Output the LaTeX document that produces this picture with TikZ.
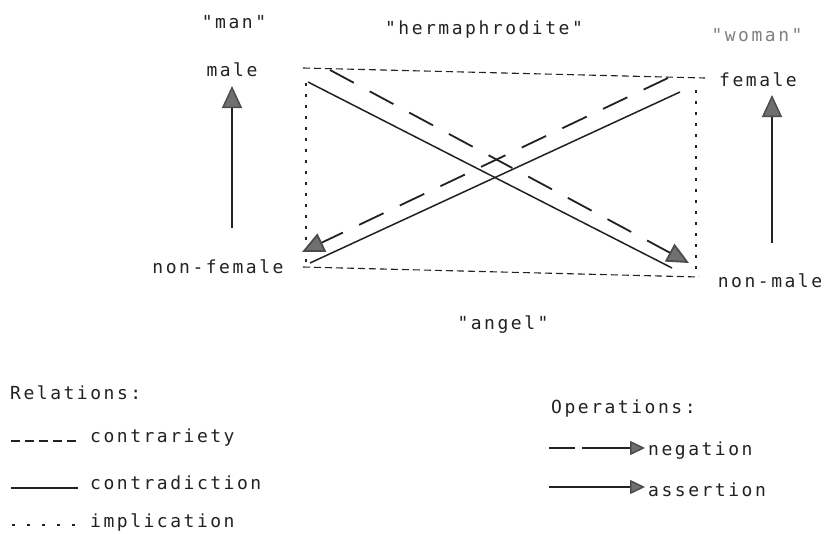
\documentclass[tikz,border=0pt]{standalone}
\usepackage{fontspec}
\newfontfamily\dm[LetterSpace=14]{DejaVu Sans Mono}
\usetikzlibrary{arrows.meta}
\definecolor{tipgray}{HTML}{707070}
\definecolor{ink}{HTML}{222222}
\tikzset{
  lbl/.style={font=\dm\fontsize{18}{18}\selectfont, text=ink, inner sep=0pt},
  bigtip/.style={-{Triangle[length=22pt,width=20pt,fill=tipgray,color=black!70]}},
  smalltip/.style={-{Triangle[length=15pt,width=14pt,fill=tipgray,color=black!70]}},
  boxdash/.style={draw=ink, line width=1.1pt, dash pattern=on 7pt off 4pt},
  boxdot/.style={draw=ink, line width=2.5pt, dash pattern=on 2.5pt off 8.5pt},
  contra/.style={draw=ink, line width=1.5pt},
  negdash/.style={draw=ink, line width=1.8pt, dash pattern=on 27pt off 18pt},
}
\begin{document}
\begin{tikzpicture}[x=1pt,y=-1pt]
\useasboundingbox[fill=white] (0,0) rectangle (837,533);

% labels
\node[lbl] (man) at (234,22) {"man"};
\node[lbl] (herm) at (484,30) {"hermaphrodite"};
\node[lbl, text=black!50] (woman) at (757,35) {"woman"};
\node[lbl] (male) at (232,70) {male};
\node[lbl] (female) at (758,80) {female};
\node[lbl] (nonfemale) at (218,267) {non-female};
\node[lbl] (nonmale) at (770,281) {non-male};
\node[lbl] (angel) at (503,325) {"angel"};

% corners
\coordinate (tl) at (303,68);
\coordinate (tr) at (705,78);
\coordinate (bl) at (303,267);
\coordinate (br) at (699,277);
\draw[boxdash] (tl) -- (tr);
\draw[boxdash] (bl) -- (br);
\coordinate (dl1) at (306,83);
\coordinate (dl2) at (306,266);
\coordinate (dr1) at (696,90);
\coordinate (dr2) at (696,274);
\draw[boxdot] (dl1) -- (dl2);
\draw[boxdot] (dr1) -- (dr2);

% contradictions
\coordinate (s1a) at (308,82);
\coordinate (s1b) at (672,268);
\coordinate (s2a) at (310,263);
\coordinate (s2b) at (680,92);
\draw[contra] (s1a) -- (s1b);
\draw[contra] (s2a) -- (s2b);

% negations
\coordinate (n1a) at (330,70);
\coordinate (n1b) at (689,263);
\coordinate (n2a) at (668,78);
\coordinate (n2b) at (302,252);
\draw[negdash, bigtip] (n1a) -- (n1b);
\draw[negdash, bigtip] (n2a) -- (n2b);

% assertions
\coordinate (a1a) at (232,228);
\coordinate (a1b) at (232,86);
\coordinate (a2a) at (772,243);
\coordinate (a2b) at (772,95);
\draw[contra, bigtip] (a1a) -- (a1b);
\draw[contra, bigtip] (a2a) -- (a2b);

% legend: relations
\node[lbl, anchor=west] (rel) at (10,393) {Relations:};
\node[lbl, anchor=west] (lcontrar) at (90,438) {contrariety};
\node[lbl, anchor=west] (lcontrad) at (90,483) {contradiction};
\node[lbl, anchor=west] (limpl) at (90,522) {implication};
\coordinate (r1a) at (11,441);
\coordinate (r1b) at (78,441);
\draw[draw=ink, line width=1.2pt, dash pattern=on 9pt off 5pt] (r1a) -- (r1b);
\coordinate (r2a) at (11,488);
\coordinate (r2b) at (78,488);
\draw[draw=ink, line width=1.2pt] (r2a) -- (r2b);
\coordinate (r3a) at (12,525);
\coordinate (r3b) at (76,525);
\draw[draw=ink, line width=2.5pt, dash pattern=on 2.5pt off 12.5pt] (r3a) -- (r3b);

% legend: operations
\node[lbl, anchor=west] (ops) at (551,409) {Operations:};
\node[lbl, anchor=west] (lneg) at (648,451) {negation};
\node[lbl, anchor=west] (lass) at (648,490) {assertion};
\coordinate (o1a) at (549,448);
\coordinate (o1b) at (575,448);
\coordinate (o1c) at (582,448);
\coordinate (o1d) at (645,448);
\draw[draw=ink, line width=1.5pt] (o1a) -- (o1b);
\draw[draw=ink, line width=1.5pt, smalltip] (o1c) -- (o1d);
\coordinate (o2a) at (549,487);
\coordinate (o2b) at (645,487);
\draw[draw=ink, line width=1.5pt, smalltip] (o2a) -- (o2b);
\end{tikzpicture}
\end{document}
